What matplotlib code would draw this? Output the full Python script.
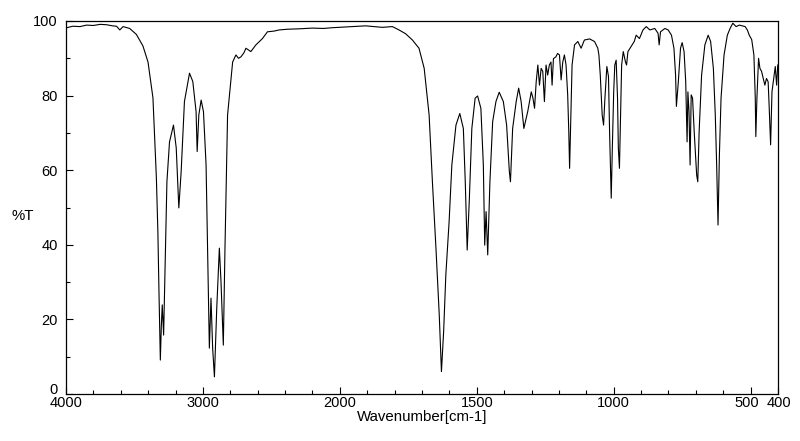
import numpy as np
import matplotlib
matplotlib.use("Agg")
import matplotlib.pyplot as plt
from matplotlib.ticker import FixedLocator, NullFormatter
from matplotlib.transforms import ScaledTranslation

# IR spectrum: wavenumber (cm-1) and transmittance (%T)
wavenumber = [
    3995, 3950, 3898, 3850, 3801, 3750, 3704, 3660, 3631, 3607, 3583, 3535, 3486, 3438, 3401,
    3365, 3340, 3329, 3321, 3311, 3304, 3297, 3287, 3278, 3263, 3244, 3215, 3195, 3176, 3159,
    3135, 3098, 3074, 3050, 3042, 3030, 3013, 2996, 2977, 2960, 2953, 2941, 2929, 2916, 2899,
    2880, 2868, 2851, 2839, 2820, 2783, 2759, 2740, 2722, 2700, 2686, 2650, 2613, 2565, 2529,
    2480, 2444, 2380, 2298, 2200, 2120, 2056, 1980, 1906, 1845, 1808, 1784, 1760, 1735, 1711,
    1692, 1674, 1662, 1649, 1637, 1629, 1621, 1613, 1601, 1591, 1576, 1562, 1549, 1542, 1535,
    1527, 1518, 1506, 1497, 1485, 1476, 1471, 1466, 1460, 1452, 1442, 1430, 1418, 1403, 1391,
    1381, 1377, 1369, 1356, 1347, 1338, 1328, 1314, 1301, 1295, 1289, 1283, 1277, 1271, 1265,
    1259, 1253, 1247, 1241, 1235, 1229, 1225, 1220, 1211, 1205, 1198, 1192, 1186, 1180, 1174,
    1168, 1164, 1161, 1157, 1152, 1143, 1131, 1119, 1107, 1088, 1070, 1058, 1054, 1049, 1042,
    1037, 1032, 1025, 1019, 1015, 1011, 1009, 1005, 1000, 996, 991, 986, 983, 979, 975,
    971, 965, 957, 953, 948, 937, 925, 918, 906, 893, 881, 868, 850, 838, 834,
    829, 813, 801, 789, 780, 774, 771, 764, 756, 750, 743, 737, 732, 729, 725,
    721, 717, 712, 706, 697, 693, 688, 679, 667, 655, 646, 636, 629, 624, 619,
    614, 608, 597, 585, 575, 565, 553, 541, 530, 520, 512, 505, 496, 488, 483,
    481, 477, 471, 466, 460, 454, 448, 442, 436, 432, 427, 422, 414, 410, 405,
    401,
]
transmittance = [
    98.2, 98.6, 98.5, 98.9, 98.8, 99.1, 99.0, 98.7, 98.6, 97.6, 98.5, 98.0, 96.4, 93.3, 89.0,
    79.4, 58.0, 43.5, 27.4, 9.1, 18.0, 23.9, 15.8, 31.0, 56.9, 67.6, 72.1, 66.0, 49.9, 59.6,
    78.4, 86.0, 83.8, 75.7, 65.0, 74.8, 78.8, 75.7, 61.4, 27.4, 12.3, 25.7, 12.3, 4.6, 23.0,
    39.1, 30.1, 13.1, 39.0, 74.8, 89.0, 90.9, 90.0, 90.4, 91.5, 92.7, 91.8, 93.6, 95.3, 97.1,
    97.3, 97.6, 97.8, 97.9, 98.1, 98.0, 98.2, 98.4, 98.7, 98.3, 98.5, 97.6, 96.6, 94.9, 92.7,
    87.3, 74.8, 56.9, 39.0, 21.2, 6.0, 16.7, 31.9, 46.2, 61.4, 72.1, 75.2, 71.2, 56.9, 38.6,
    52.5, 71.2, 79.3, 79.9, 76.6, 61.4, 39.9, 48.9, 37.3, 56.9, 73.0, 78.4, 80.9, 78.4, 72.1,
    59.6, 56.9, 71.2, 78.4, 82.0, 78.4, 71.2, 75.7, 81.0, 79.4, 76.6, 83.7, 88.2, 82.8, 87.3,
    86.5, 78.4, 88.2, 85.5, 88.2, 89.0, 82.8, 89.9, 90.4, 91.3, 90.9, 84.2, 89.0, 90.9, 88.2,
    80.2, 70.3, 60.5, 73.0, 88.2, 93.6, 94.5, 92.7, 94.9, 95.2, 94.5, 92.7, 90.9, 85.5, 74.8,
    72.1, 79.3, 87.8, 85.1, 70.3, 58.7, 52.5, 65.9, 81.0, 88.2, 89.5, 79.3, 65.9, 60.5, 74.8,
    88.2, 91.8, 89.0, 88.2, 91.8, 93.1, 94.5, 96.2, 95.3, 97.6, 98.5, 97.6, 98.0, 96.7, 93.6,
    97.1, 98.0, 97.6, 96.2, 92.7, 85.5, 77.1, 83.7, 92.7, 94.2, 91.8, 83.7, 67.6, 81.0, 75.7,
    61.4, 80.2, 79.3, 70.3, 58.7, 56.9, 70.3, 85.5, 93.6, 96.2, 94.5, 87.3, 74.8, 61.4, 45.3,
    64.1, 79.3, 90.9, 96.2, 98.0, 99.4, 98.5, 98.9, 98.7, 98.5, 97.6, 96.2, 95.0, 90.9, 79.3,
    69.0, 79.3, 90.0, 87.3, 86.5, 84.6, 82.8, 84.6, 83.7, 76.6, 66.8, 81.0, 85.5, 87.8, 82.8,
    88.2,
]

major_ticks = [4000, 3000, 2000, 1500, 1000, 500, 400]
major_labels = ["4000", "3000", "2000", "1500", "1000", "500", "400"]
y_ticks = [0, 20, 40, 60, 80, 100]


def forward(w):
    w = np.asarray(w, dtype=float)
    return np.where(w >= 2000, 1600 + (w - 2000) * 0.5, w - 400)


def inverse(u):
    u = np.asarray(u, dtype=float)
    return np.where(u >= 1600, 2000 + (u - 1600) * 2.0, u + 400)


plt.rcParams['font.family'] = ['Liberation Sans', 'DejaVu Sans']

fig = plt.figure(figsize=(8, 4.41), dpi=100)
ax = fig.add_axes([66 / 800, 1 - 394 / 441, (778 - 66) / 800, (394 - 21) / 441])
ax.set_xscale('function', functions=(forward, inverse))
ax.plot(wavenumber, transmittance, color='black', lw=0.8)
ax.set_xlim(4000, 400)
ax.set_ylim(0, 100)

minor_x = list(range(3800, 2000, -200)) + list(range(1900, 400, -100))
ax.xaxis.set_major_locator(FixedLocator(major_ticks))
ax.set_xticklabels(major_labels)
ax.xaxis.set_minor_locator(FixedLocator(minor_x))
ax.xaxis.set_minor_formatter(NullFormatter())
ax.yaxis.set_major_locator(FixedLocator(y_ticks))
ax.yaxis.set_minor_locator(FixedLocator(list(range(10, 100, 20))))

ax.tick_params(axis='both', which='both', direction='in', top=False, right=False,
               labelsize=10.5, width=0.8, color='black')
ax.tick_params(axis='both', which='major', length=5)
ax.tick_params(axis='both', which='minor', length=3)
ax.tick_params(axis='x', which='major', pad=1.5)
ax.tick_params(axis='y', which='major', pad=6)
for s in ax.spines.values():
    s.set_linewidth(0.9)

# small nudges so neighbouring labels do not collide (as in the reference layout)
xl = ax.get_xticklabels()
xl[5].set_transform(xl[5].get_transform() + ScaledTranslation(-4 / 100, 0, fig.dpi_scale_trans))
xl[6].set_transform(xl[6].get_transform() + ScaledTranslation(1 / 100, 0, fig.dpi_scale_trans))
yl = ax.get_yticklabels()
yl[0].set_transform(yl[0].get_transform() + ScaledTranslation(0, 6 / 100, fig.dpi_scale_trans))

fig.text(23 / 800, 1 - 216 / 441, "%T", ha='center', va='center', fontsize=10.8)
ax.set_xlabel("Wavenumber[cm-1]", fontsize=10.8, labelpad=0)

fig.savefig("out.png", dpi=100)
